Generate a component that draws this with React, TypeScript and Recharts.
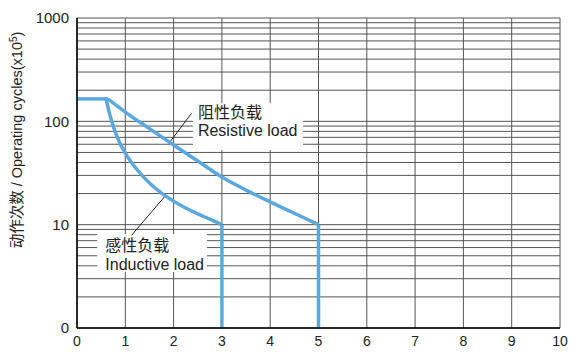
import React from 'react';
import { LineChart, Line, XAxis, YAxis, CartesianGrid, ReferenceArea, ReferenceLine } from 'recharts';

const xTicks = [0, 1, 2, 3, 4, 5, 6, 7, 8, 9, 10];
const yGridTicks = [
  1, 2, 3, 4, 5, 6, 7, 8, 9,
  10, 20, 30, 40, 50, 60, 70, 80, 90,
  100, 200, 300, 400, 500, 600, 700, 800, 900,
  1000,
];
const yLabelTicks = [1, 10, 100, 1000];
const yLabelText = ['0', '10', '100', '1000'];

const flatX = [0, 0.64];
const flatY = [165, 165];

const resistiveX = [0.64, 1, 1.5, 2, 2.5, 3, 3.5, 4, 4.5, 5];
const resistiveY = [165, 123, 85, 59, 41.3, 28.9, 21.6, 16.6, 12.9, 10];
const resistiveDropX = [5, 5];
const resistiveDropY = [10, 1];

const inductiveX = [0.6, 0.7, 0.8, 0.9, 1, 1.25, 1.5, 1.75, 2, 2.25, 2.5, 2.75, 3];
const inductiveY = [165, 107, 77, 60, 49.3, 33.8, 25.3, 20.2, 16.9, 14.5, 12.7, 11.3, 10];
const inductiveDropX = [3, 3];
const inductiveDropY = [10, 1];

const resistiveLabel = ['阻性负载', 'Resistive load'];
const inductiveLabel = ['感性负载', 'Inductive load'];

const zip = (xs: number[], ys: number[]) => xs.map((x, i) => ({ x, y: ys[i] }));

const flatData = zip(flatX, flatY);
const resistiveData = zip(resistiveX, resistiveY);
const resistiveDrop = zip(resistiveDropX, resistiveDropY);
const inductiveData = zip(inductiveX, inductiveY);
const inductiveDrop = zip(inductiveDropX, inductiveDropY);

const FONT = '"Liberation Sans", Arial, "Noto Sans CJK SC", sans-serif';
const BLUE = '#5BA8DF';

const makeBoxLabel = (lines: string[], dx: number, dy0: number, dy1: number) => (props: any) => {
  const vb = props.viewBox || {};
  const x = vb.x ?? 0;
  const y = vb.y ?? 0;
  return (
    <g>
      <text x={x + dx} y={y + dy0} fontFamily={FONT} fontSize={16} fill="#222" dominantBaseline="central">
        {lines[0]}
      </text>
      <text x={x + dx} y={y + dy1} fontFamily={FONT} fontSize={16} fill="#222" dominantBaseline="central">
        {lines[1]}
      </text>
    </g>
  );
};

const YTitle = () => {
  const cx = 17;
  const cy = 140;
  return (
    <text
      x={cx}
      y={cy}
      transform={`rotate(-90 ${cx} ${cy})`}
      textAnchor="middle"
      dominantBaseline="central"
      fontFamily={FONT}
      fontSize={14.5}
      fill="#222"
    >
      动作次数 / Operating cycles(x10
      <tspan fontSize={10} dy={-4}>5</tspan>
      <tspan dy={4}>)</tspan>
    </text>
  );
};

export default function App() {
  return (
    <div style={{ width: 570, height: 352 }}>
      <style>{'html,body{margin:0;padding:0;overflow:hidden;}'}</style>
      <LineChart width={570} height={352} margin={{ top: 18, right: 10, bottom: 0, left: 0 }}>
        <CartesianGrid stroke="#555" strokeWidth={1} />
        <XAxis
          type="number"
          dataKey="x"
          domain={[0, 10]}
          ticks={xTicks}
          allowDataOverflow
          tickLine={false}
          axisLine={{ stroke: '#000', strokeWidth: 1.5 }}
          tick={{ fontSize: 14, fill: '#222', fontFamily: FONT }}
          height={24}
        />
        <YAxis
          type="number"
          dataKey="y"
          scale="log"
          domain={[1, 1000]}
          ticks={yGridTicks}
          allowDataOverflow
          interval={0}
          tickLine={false}
          axisLine={{ stroke: '#000', strokeWidth: 1.5 }}
          tick={{ fontSize: 15, fill: '#222', fontFamily: FONT }}
          tickFormatter={(v: number) => {
            const i = yLabelTicks.indexOf(v);
            return i >= 0 ? yLabelText[i] : '';
          }}
          width={77}
          label={<YTitle />}
        />
        <ReferenceArea
          x1={2.4}
          x2={4.68}
          y1={52.7}
          y2={150}
          fill="#fff"
          fillOpacity={1}
          stroke="none"
          ifOverflow="visible"
          label={makeBoxLabel(resistiveLabel, 5, 9, 27)}
        />
        <ReferenceArea
          x1={0.42}
          x2={2.69}
          y1={3.48}
          y2={8.11}
          fill="#fff"
          fillOpacity={1}
          stroke="none"
          ifOverflow="visible"
          label={makeBoxLabel(inductiveLabel, 8, 11, 30)}
        />
        <ReferenceLine
          segment={[{ x: 2.37, y: 119.5 }, { x: 1.9, y: 61 }]}
          stroke="#222"
          strokeWidth={1}
          ifOverflow="visible"
        />
        <ReferenceLine
          segment={[{ x: 1.82, y: 18.8 }, { x: 1.13, y: 7.9 }]}
          stroke="#222"
          strokeWidth={1}
          ifOverflow="visible"
        />
        <Line data={flatData} dataKey="y" type="linear" stroke={BLUE} strokeWidth={3.5} dot={false} isAnimationActive={false} />
        <Line data={resistiveData} dataKey="y" type="monotone" stroke={BLUE} strokeWidth={3.5} dot={false} isAnimationActive={false} />
        <Line data={resistiveDrop} dataKey="y" type="linear" stroke={BLUE} strokeWidth={3.5} dot={false} isAnimationActive={false} />
        <Line data={inductiveData} dataKey="y" type="monotone" stroke={BLUE} strokeWidth={3.5} dot={false} isAnimationActive={false} />
        <Line data={inductiveDrop} dataKey="y" type="linear" stroke={BLUE} strokeWidth={3.5} dot={false} isAnimationActive={false} />
      </LineChart>
    </div>
  );
}
